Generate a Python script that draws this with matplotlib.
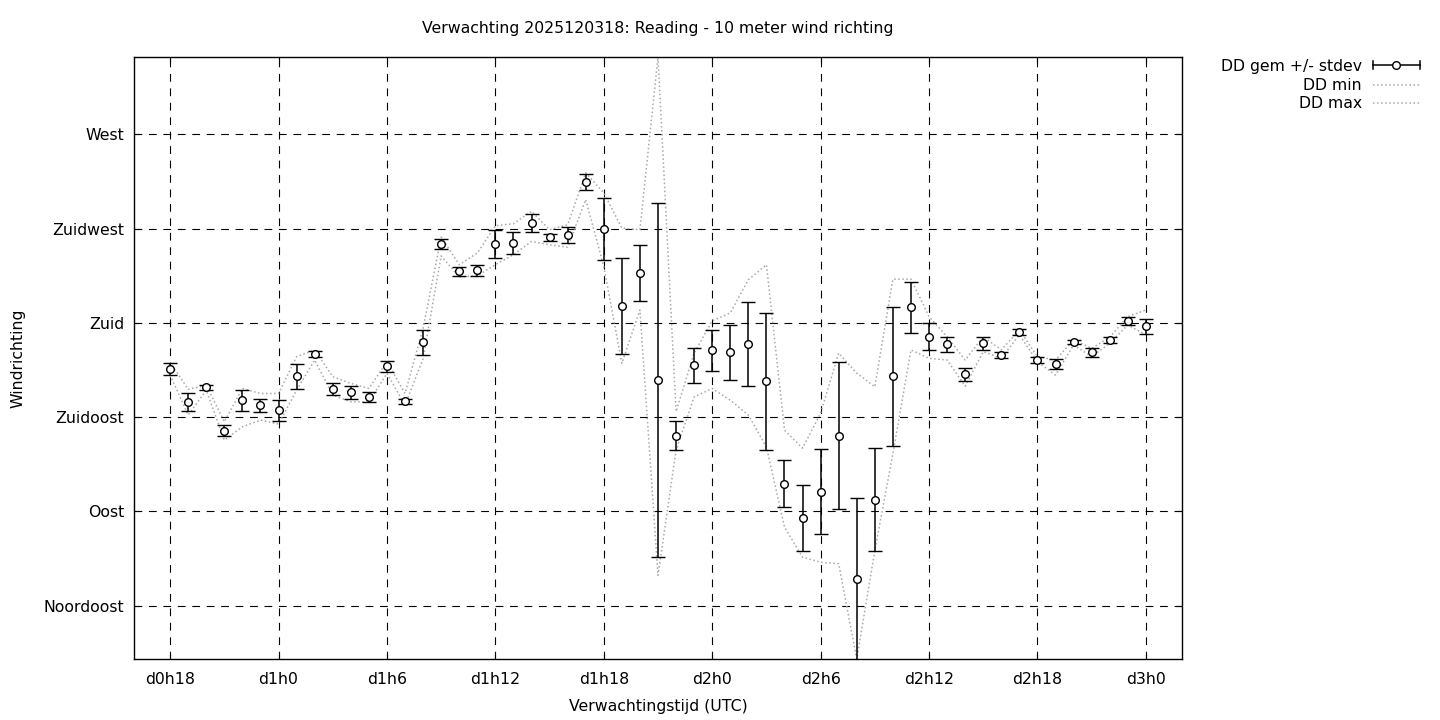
import matplotlib
matplotlib.use("Agg")
import matplotlib.pyplot as plt
from matplotlib.lines import Line2D

# forecast hours relative to d0h0
hours = [18, 19, 20, 21, 22, 23, 24, 25, 26, 27, 28, 29, 30, 31, 32, 33, 34, 35, 36,
         37, 38, 39, 40, 41, 42, 43, 44, 45, 46, 47, 48, 49, 50, 51, 52, 53, 54, 55,
         56, 57, 58, 59, 60, 61, 62, 63, 64, 65, 66, 67, 68, 69, 70, 71, 72]

# wind direction in degrees (ensemble mean, stdev, min, max)
dd_mean = [158.0, 142.0, 149.2, 128.6, 143.0, 140.6, 138.2, 154.5, 165.0, 148.3, 146.8,
           144.4, 159.3, 142.5, 170.8, 217.7, 204.7, 205.2, 217.7, 218.2, 227.7, 220.8,
           222.0, 247.4, 224.9, 188.0, 203.8, 152.6, 126.2, 159.7, 166.9, 166.0, 169.8,
           152.1, 103.3, 87.0, 99.4, 126.2, 57.8, 95.6, 154.5, 187.5, 173.4, 169.8, 155.4,
           170.3, 164.7, 175.5, 162.3, 160.4, 170.9, 166.0, 171.7, 180.8, 178.4]
dd_std = [3.0, 4.3, 1.3, 2.6, 5.2, 3.3, 4.8, 5.9, 1.4, 2.8, 3.2, 2.4, 2.6, 1.4, 6.0,
          2.6, 2.1, 2.6, 6.5, 5.1, 4.1, 1.8, 4.0, 3.9, 14.8, 22.9, 13.3, 84.5, 6.8, 8.5,
          9.7, 13.2, 20.1, 32.6, 11.4, 15.8, 20.3, 35.1, 38.8, 24.5, 33.2, 12.1, 6.4, 3.7,
          2.9, 3.0, 1.4, 1.4, 1.4, 2.6, 1.0, 2.2, 1.4, 2.0, 3.6]
dd_min = [155.1, 136.0, 147.9, 124.0, 130.4, 133.6, 131.7, 147.9, 162.3, 145.5, 142.3,
          142.3, 155.9, 140.7, 163.0, 212.0, 201.9, 202.5, 207.8, 212.6, 218.9, 217.3,
          216.2, 238.9, 206.9, 160.7, 186.2, 59.4, 119.2, 144.7, 148.7, 143.1, 136.0,
          120.8, 82.5, 68.1, 65.7, 65.0, 19.5, 71.3, 117.6, 167.1, 163.1, 162.3, 149.8,
          166.3, 163.1, 174.3, 161.5, 155.1, 169.5, 163.9, 170.3, 179.0, 174.3]
dd_max = [161.2, 148.3, 150.2, 132.8, 148.7, 146.3, 146.3, 163.9, 167.1, 154.3, 151.1,
          148.7, 161.5, 146.3, 177.5, 221.0, 207.8, 213.4, 226.4, 227.4, 233.3, 224.5,
          226.9, 251.7, 242.1, 225.3, 224.5, 307.0, 137.7, 165.6, 181.0, 184.8, 200.6,
          207.8, 128.8, 120.2, 136.9, 165.6, 156.0, 149.5, 200.9, 200.9, 183.0, 173.4,
          162.3, 173.4, 167.1, 176.6, 163.9, 162.3, 171.9, 167.9, 173.2, 183.0, 186.2]

x_ticks = [18, 24, 30, 36, 42, 48, 54, 60, 66, 72]
y_ticks = [45, 90, 135, 180, 225, 270]
y_labels = ["Noordoost", "Oost", "Zuidoost", "Zuid", "Zuidwest", "West"]

W, H = 1440, 720
FS = 11.3

plt.rcParams["font.family"] = ["DejaVu Sans"]
fig = plt.figure(figsize=(W / 100, H / 100), dpi=100)
ax = fig.add_axes([134 / W, 1 - 659 / H, (1182 - 134) / W, (659 - 57) / H])

# min / max as faint dotted lines
ax.plot(hours, dd_min, linestyle=":", color="#a8a8a8", lw=1.1, zorder=2)
ax.plot(hours, dd_max, linestyle=":", color="#a8a8a8", lw=1.1, zorder=2)

# mean +/- stdev
ax.errorbar(hours, dd_mean, yerr=dd_std, fmt="o", ms=5.5, mfc="white", mec="black",
            mew=1.0, ecolor="black", elinewidth=1.1, capsize=5, capthick=1.1, zorder=3)

ax.set_xlim(16, 74)
ax.set_ylim(min(dd_min), max(dd_max))
ax.set_xticks(x_ticks)
ax.set_xticklabels([f"d{h // 24}h{h % 24}" for h in x_ticks], fontsize=FS)
ax.set_yticks(y_ticks)
ax.set_yticklabels(y_labels, fontsize=FS)
ax.tick_params(axis="both", direction="in", length=4.5, width=0.8, top=True, right=True)
ax.tick_params(axis="x", pad=9)
ax.tick_params(axis="y", pad=7)
ax.grid(True, color="black", linestyle=(0, (7, 6)), linewidth=0.8, zorder=1)
ax.set_axisbelow(True)
for sp in ax.spines.values():
    sp.set_linewidth(1.0)

fig.text(658 / W, 1 - 29 / H, "Verwachting 2025120318: Reading - 10 meter wind richting",
         ha="center", va="center", fontsize=FS)
fig.text(658 / W, 1 - 707 / H, "Verwachtingstijd (UTC)", ha="center", va="center", fontsize=FS)
fig.text(18 / W, 1 - 358 / H, "Windrichting", ha="center", va="center", rotation=90, fontsize=FS)

# legend drawn by hand, gnuplot style (text right aligned, sample on the right)
def fx(px):
    return px / W

def fy(py):
    return 1 - py / H

leg_rows = [("DD gem +/- stdev", 66), ("DD min", 85), ("DD max", 103)]
for label, yy in leg_rows:
    fig.text(fx(1362), fy(yy), label, ha="right", va="center", fontsize=FS)

y0 = 65
fig.add_artist(Line2D([fx(1373), fx(1420)], [fy(y0), fy(y0)], color="black", lw=1.1))
for xc in (1373, 1420):
    fig.add_artist(Line2D([fx(xc), fx(xc)], [fy(y0 - 4), fy(y0 + 4)], color="black", lw=1.1))
fig.add_artist(Line2D([fx(1396)], [fy(y0)], marker="o", ms=5.5, mfc="white", mec="black",
                      mew=1.0, linestyle="none"))
for yy in (85, 103):
    fig.add_artist(Line2D([fx(1373), fx(1420)], [fy(yy), fy(yy)], color="#a8a8a8",
                          linestyle=":", lw=1.1))

fig.savefig("out.png", dpi=100)
